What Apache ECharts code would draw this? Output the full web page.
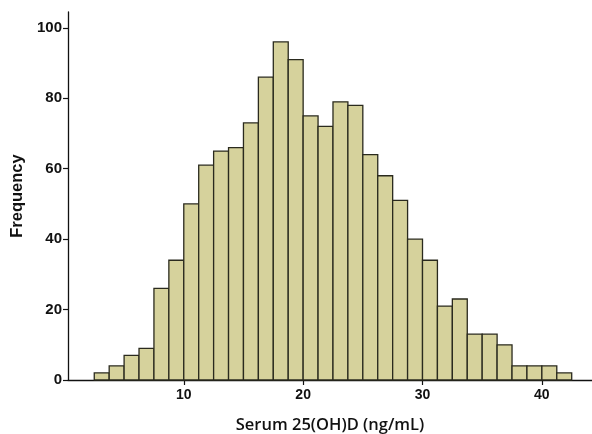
<!DOCTYPE html>
<html><head><meta charset="utf-8">
<script src="https://cdn.jsdelivr.net/npm/echarts@6/dist/echarts.min.js"></script>
<style>html,body{margin:0;padding:0;background:#fff}#c{width:592px;height:434px}</style>
</head><body><div id="c"></div>
<script>
const binLow  = [2.5,3.75,5,6.25,7.5,8.75,10,11.25,12.5,13.75,15,16.25,17.5,18.75,20,21.25,22.5,23.75,25,26.25,27.5,28.75,30,31.25,32.5,33.75,35,36.25,37.5,38.75,40,41.25];
const binHigh = [3.75,5,6.25,7.5,8.75,10,11.25,12.5,13.75,15,16.25,17.5,18.75,20,21.25,22.5,23.75,25,26.25,27.5,28.75,30,31.25,32.5,33.75,35,36.25,37.5,38.75,40,41.25,42.5];
const counts  = [2,4,7,9,26,34,50,61,65,66,73,86,96,91,75,72,79,78,64,58,51,40,34,21,23,13,13,10,4,4,4,2];
const xTicks = [10,20,30,40];
const yTicks = [0,20,40,60,80,100];

const data = counts.map((c,i)=>[binLow[i],binHigh[i],c]);
const chart = echarts.init(document.getElementById('c'));
const labelFont = {fontFamily:'Liberation Sans, Arial, sans-serif', fontWeight:'bold', color:'#111'};
chart.setOption({
  animation:false,
  grid:{left:68,right:0,top:12,bottom:54,containLabel:false,outerBoundsMode:'none'},
  xAxis:{type:'value',min:0.3,max:44.2,
    name:'Serum 25(OH)D (ng/mL)',nameLocation:'middle',nameGap:37,
    nameTextStyle:{fontFamily:'Open Sans, sans-serif',fontWeight:600,fontSize:16.5,color:'#111'},
    axisLine:{show:true,lineStyle:{color:'#111',width:1.3}},
    axisTick:{show:true,customValues:xTicks,length:5,lineStyle:{color:'#111',width:1.2}},
    axisLabel:{customValues:xTicks,margin:8,fontSize:14,...labelFont},
    splitLine:{show:false}},
  yAxis:{type:'value',min:0,max:104.5,
    name:'Frequency',nameLocation:'middle',nameGap:38,
    nameTextStyle:{fontFamily:'Liberation Sans, Arial, sans-serif',fontWeight:'bold',fontSize:16.5,color:'#111'},
    axisLine:{show:true,lineStyle:{color:'#111',width:1.3}},
    axisTick:{show:true,customValues:yTicks,length:5,lineStyle:{color:'#111',width:1.2}},
    axisLabel:{customValues:yTicks,margin:6,fontSize:15,...labelFont},
    splitLine:{show:false}},
  series:[{type:'custom',data:data,
    encode:{x:[0,1],y:2},
    renderItem:function(params,api){
      const p0=api.coord([api.value(0),0]);
      const p1=api.coord([api.value(1),api.value(2)]);
      return {type:'rect',shape:{x:p0[0],y:p1[1],width:p1[0]-p0[0],height:p0[1]-p1[1]},
        style:{fill:'#d6d29c',stroke:'#2a2a1e',lineWidth:1.3}};
    }}]
});
</script></body></html>
